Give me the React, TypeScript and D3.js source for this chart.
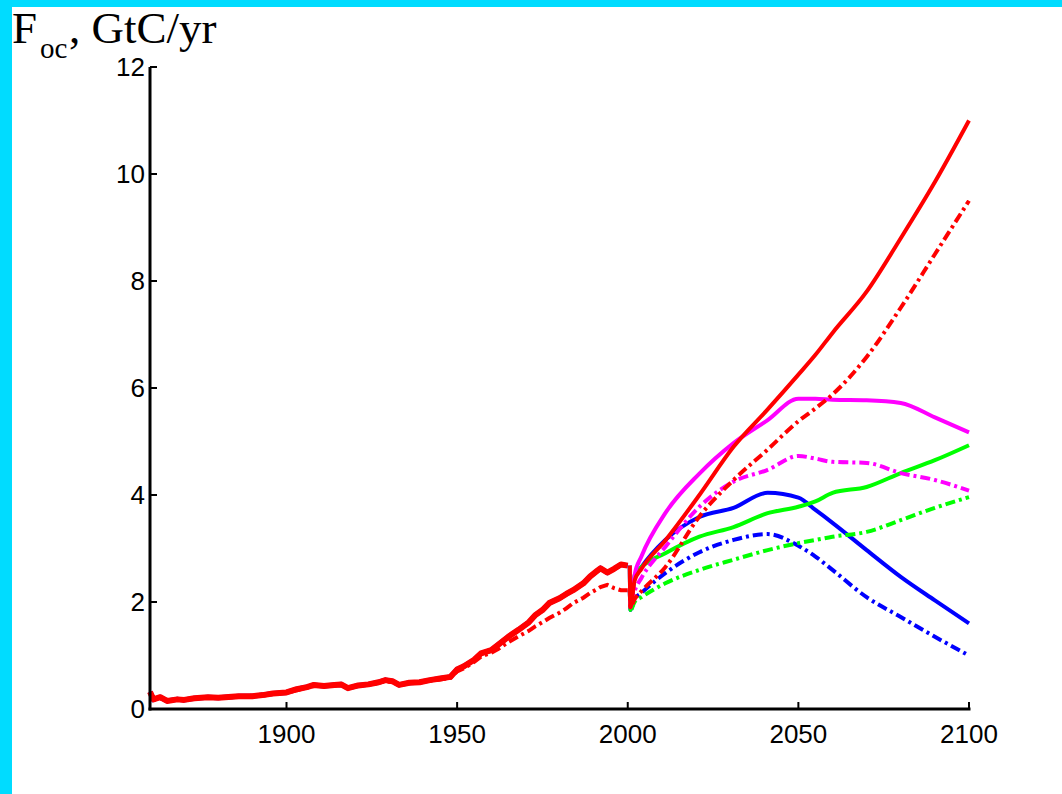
import React from "react";
import * as d3 from "d3";

// ---------- data ----------
const histYears = [1860, 1861, 1863, 1865, 1868, 1870, 1873, 1877, 1880, 1884, 1886, 1890, 1893, 1896, 1900, 1903, 1906, 1908, 1911, 1914, 1916, 1918, 1921, 1924, 1927, 1929, 1931, 1933, 1936, 1939, 1942, 1945, 1948, 1950, 1952, 1955, 1957, 1960, 1962, 1965, 1968, 1971, 1973, 1975, 1977, 1980, 1982, 1984, 1987, 1989, 1991, 1992, 1994, 1996, 1998, 2000];
const histSolid = [0.32, 0.18, 0.22, 0.15, 0.18, 0.17, 0.20, 0.22, 0.21, 0.23, 0.24, 0.24, 0.26, 0.29, 0.31, 0.37, 0.41, 0.45, 0.43, 0.45, 0.46, 0.39, 0.44, 0.46, 0.50, 0.54, 0.52, 0.45, 0.49, 0.50, 0.54, 0.57, 0.60, 0.74, 0.80, 0.92, 1.04, 1.10, 1.20, 1.35, 1.48, 1.62, 1.76, 1.85, 1.98, 2.07, 2.15, 2.22, 2.35, 2.48, 2.58, 2.63, 2.55, 2.62, 2.70, 2.68];
const histDash = [0.30, 0.17, 0.20, 0.16, 0.17, 0.18, 0.20, 0.21, 0.22, 0.22, 0.24, 0.25, 0.25, 0.28, 0.30, 0.35, 0.40, 0.43, 0.44, 0.44, 0.45, 0.40, 0.43, 0.45, 0.49, 0.52, 0.50, 0.46, 0.48, 0.50, 0.53, 0.55, 0.58, 0.70, 0.76, 0.88, 0.98, 1.05, 1.12, 1.25, 1.36, 1.46, 1.55, 1.62, 1.70, 1.80, 1.88, 1.98, 2.08, 2.17, 2.24, 2.28, 2.32, 2.26, 2.22, 2.22];

const futYears = [2000.6, 2000.8, 2002, 2004, 2011, 2021, 2031, 2041, 2050, 2055, 2060, 2070, 2080, 2090, 2100];
const redSolid = [2.68, 1.90, 2.40, 2.62, 3.15, 4.00, 4.90, 5.60, 6.25, 6.62, 7.03, 7.80, 8.80, 9.85, 11.00];
const redDash = [2.22, 1.90, 2.05, 2.20, 2.65, 3.60, 4.28, 4.85, 5.38, 5.62, 5.88, 6.58, 7.50, 8.50, 9.50];
const magSolid = [2.68, 1.90, 2.50, 2.85, 3.66, 4.40, 4.97, 5.40, 5.80, 5.80, 5.78, 5.77, 5.72, 5.45, 5.17];
const magDash = [2.22, 1.90, 2.20, 2.45, 3.03, 3.78, 4.25, 4.47, 4.73, 4.68, 4.62, 4.60, 4.41, 4.28, 4.08];
const blueSolid = [2.68, 1.85, 2.45, 2.65, 3.16, 3.59, 3.76, 4.04, 3.95, 3.72, 3.48, 2.97, 2.47, 2.03, 1.60];
const blueDash = [2.22, 1.85, 2.05, 2.17, 2.54, 2.93, 3.16, 3.27, 3.05, 2.85, 2.60, 2.09, 1.72, 1.35, 1.00];
const greenSolid = [2.68, 1.85, 2.50, 2.65, 2.91, 3.22, 3.40, 3.66, 3.78, 3.88, 4.04, 4.15, 4.41, 4.65, 4.93];
const greenDash = [2.22, 1.85, 2.00, 2.09, 2.35, 2.60, 2.79, 2.97, 3.10, 3.16, 3.22, 3.31, 3.53, 3.76, 3.96];

const yTicks = [0, 2, 4, 6, 8, 10, 12];
const xTicks = [1900, 1950, 2000, 2050, 2100];

// ---------- layout ----------
const W = 1062;
const H = 794;
const x = d3.scaleLinear().domain([1860, 2100]).range([150, 969]);
const y = d3.scaleLinear().domain([0, 12]).range([709, 67]);

const histLine = d3
  .line<[number, number]>()
  .x((d) => x(d[0]))
  .y((d) => y(d[1]));

const futLine = d3
  .line<[number, number]>()
  .x((d) => x(d[0]))
  .y((d) => y(d[1]))
  .curve(d3.curveMonotoneX);

const zip = (xs: number[], ys: number[]) => xs.map((v, i) => [v, ys[i]] as [number, number]);

const DASH = "10,4,3,4";

export default function App() {
  const series = [
    { v: blueDash, c: "#0000ff", dash: true },
    { v: blueSolid, c: "#0000ff", dash: false },
    { v: greenDash, c: "#00ff00", dash: true },
    { v: greenSolid, c: "#00ff00", dash: false },
    { v: magDash, c: "#ff00ff", dash: true },
    { v: magSolid, c: "#ff00ff", dash: false },
    { v: redDash, c: "#ff0000", dash: true },
    { v: redSolid, c: "#ff0000", dash: false },
  ];
  const tickFont = "'Liberation Sans', Arial, Helvetica, sans-serif";
  return (
    <svg
      width={W}
      height={H}
      style={{ position: "absolute", left: 0, top: 0, background: "#ffffff" }}
    >
      <rect x={0} y={0} width={W} height={H} fill="#ffffff" />
      <rect x={0} y={0} width={12} height={H} fill="#00dcff" />
      <rect x={0} y={0} width={W} height={7} fill="#00dcff" />

      {/* title */}
      <text fontFamily="'Liberation Serif', 'Times New Roman', serif" fill="#000">
        <tspan x={12} y={43} fontSize={45}>F</tspan>
        <tspan x={40} y={58} fontSize={29}>oc</tspan>
        <tspan x={69} y={43} fontSize={45}>, GtC/yr</tspan>
      </text>

      {/* historical lines */}
      <path d={histLine(zip(histYears, histSolid)) || ""} fill="none" stroke="#0000ff" strokeWidth={5} />
      <path d={histLine(zip(histYears, histDash)) || ""} fill="none" stroke="#ff0000" strokeWidth={4} strokeDasharray={DASH} />
      <path d={histLine(zip(histYears, histSolid)) || ""} fill="none" stroke="#ff0000" strokeWidth={6} strokeLinejoin="round" />

      {/* scenario lines */}
      {series.map((s, i) => (
        <path
          key={i}
          d={futLine(zip(futYears, s.v)) || ""}
          fill="none"
          stroke={s.c}
          strokeWidth={4}
          strokeDasharray={s.dash ? DASH : undefined}
          strokeLinejoin="round"
        />
      ))}

      {/* axes */}
      <g stroke="#000" fill="none">
        <line x1={x(1860)} x2={x(1860)} y1={y(12)} y2={y(0) + 1.5} strokeWidth={3} />
        <line x1={x(1860) - 1.5} x2={x(2100) + 1.5} y1={y(0)} y2={y(0)} strokeWidth={3} />
        {yTicks.map((t) => (
          <line key={t} x1={x(1860)} x2={x(1860) + 7} y1={y(t)} y2={y(t)} strokeWidth={2} />
        ))}
        {xTicks.map((t) => (
          <line key={t} x1={x(t)} x2={x(t)} y1={y(0)} y2={y(0) - 7} strokeWidth={2} />
        ))}
      </g>
      <g fontFamily={tickFont} fontSize={26} fill="#000">
        {yTicks.map((t) => (
          <text key={t} x={x(1860) - 5} y={y(t)} dy="0.36em" textAnchor="end">
            {t}
          </text>
        ))}
        {xTicks.map((t) => (
          <text key={t} x={x(t)} y={743} textAnchor="middle">
            {t}
          </text>
        ))}
      </g>
    </svg>
  );
}
